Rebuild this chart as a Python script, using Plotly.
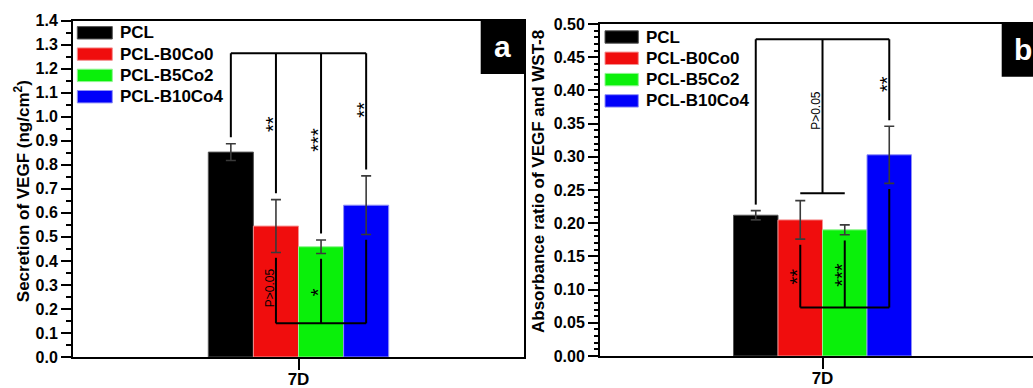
import plotly.graph_objects as go

# ---------------- data ----------------
groups = ["PCL", "PCL-B0Co0", "PCL-B5Co2", "PCL-B10Co4"]
day_labels = ["7D"]

vegf_secretion = [0.853, 0.545, 0.459, 0.632]          # ng/cm2
vegf_secretion_err = [0.035, 0.110, 0.028, 0.122]

absorbance_ratio = [0.212, 0.205, 0.190, 0.303]        # VEGF / WST-8
absorbance_ratio_err = [0.007, 0.029, 0.0075, 0.043]

# significance labels: (text, bar index or None for middle, y level)
sig_left = [("**", 1, 0.97), ("***", 2, 0.905), ("**", 3, 1.03),
            ("P>0.05", 1, 0.29), ("*", 2, 0.27)]
sig_right = [("P>0.05", None, 0.37), ("**", 3, 0.41),
             ("**", 1, 0.12), ("***", 2, 0.122)]

# ---------------- styles ----------------
colors = ["#000000", "#f00d0d", "#0af00a", "#0000fa"]
edges = ["#555555", "#f59090", "#90f590", "#9090f5"]
FONT = "Liberation Sans, Arial, sans-serif"
W, H = 1033, 388
BARGAP = 0.6

group_w = 1 - BARGAP
bw = group_w / len(groups)
centers = [-group_w / 2 + bw * (i + 0.5) for i in range(len(groups))]

fig = go.Figure()

for ax, vals, errs in [("", vegf_secretion, vegf_secretion_err),
                       ("2", absorbance_ratio, absorbance_ratio_err)]:
    for i, g in enumerate(groups):
        fig.add_trace(go.Bar(
            x=[0], y=[vals[i]], name=g, showlegend=False,
            marker=dict(color=colors[i], line=dict(color=edges[i], width=1)),
            error_y=dict(type="data", array=[errs[i]], color="#3a3a3a",
                         thickness=1.6, width=5),
            xaxis="x" + ax, yaxis="y" + ax, offsetgroup=str(i),
        ))

shapes = []
annotations = []
LW = dict(color="black", width=2)


def seg(ax, x0, y0, x1, y1):
    shapes.append(dict(type="line", xref="x" + ax, yref="y" + ax,
                       x0=x0, y0=y0, x1=x1, y1=y1, line=LW, layer="above"))


# ---- panel a brackets ----
top_a, gap_top_a = 1.265, 0.027
bot_a, gap_bot_a = 0.14, 0.022
seg("", centers[0], top_a, centers[3], top_a)
for i in range(4):
    seg("", centers[i], top_a, centers[i], vegf_secretion[i] + vegf_secretion_err[i] + gap_top_a)
seg("", centers[1], bot_a, centers[3], bot_a)
for i in range(1, 4):
    seg("", centers[i], bot_a, centers[i], vegf_secretion[i] - vegf_secretion_err[i] - gap_bot_a)

# ---- panel b brackets ----
top_b, gap_top_b = 0.477, 0.009
mid_b = 0.245
bot_b, gap_bot_b = 0.073, 0.0085
seg("2", centers[0], top_b, centers[3], top_b)
for i in (0, 3):
    seg("2", centers[i], top_b, centers[i], absorbance_ratio[i] + absorbance_ratio_err[i] + gap_top_b)
seg("2", 0, top_b, 0, mid_b)
seg("2", centers[1], mid_b, centers[2], mid_b)
seg("2", centers[1], bot_b, centers[3], bot_b)
for i in range(1, 4):
    seg("2", centers[i], bot_b, centers[i], absorbance_ratio[i] - absorbance_ratio_err[i] - gap_bot_b)

# ---- legends (drawn as swatches + labels, one per panel) ----
for sx0, sx1, tx, row0 in [(77.3, 112.3, 118.3, 32.8), (605, 638.3, 644.3, 37)]:
    for i, g in enumerate(groups):
        yc = row0 + 21.3 * i
        shapes.append(dict(type="rect", xref="paper", yref="paper",
                           x0=sx0 / W, x1=sx1 / W,
                           y0=1 - (yc + 6.2) / H, y1=1 - (yc - 6.2) / H,
                           fillcolor=colors[i], line=dict(color=edges[i], width=1),
                           layer="above"))
        annotations.append(dict(text=g, x=tx / W, y=1 - yc / H, xref="paper", yref="paper",
                                xanchor="left", yanchor="middle", showarrow=False,
                                font=dict(family=FONT, size=17, color="black", weight="bold")))

# ---- panel letter boxes ----
shapes.append(dict(type="rect", xref="paper", yref="paper",
                   x0=480.7 / W, x1=524 / W, y0=1 - 74 / H, y1=1 - 20.7 / H,
                   fillcolor="black", line=dict(width=0), layer="above"))
shapes.append(dict(type="rect", xref="paper", yref="paper",
                   x0=1001.7 / W, x1=1.02, y0=1 - 76.7 / H, y1=1 - 23.3 / H,
                   fillcolor="black", line=dict(width=0), layer="above"))

for ax, sig in (("", sig_left), ("2", sig_right)):
    for txt, idx, y in sig:
        x = 0 if idx is None else centers[idx]
        is_star = txt.startswith("*")
        annotations.append(dict(
            text=txt, x=x, y=y, xref="x" + ax, yref="y" + ax,
            showarrow=False, textangle=-90, xanchor="center", yanchor="middle",
            xshift=-6 if not is_star else -3,
            font=dict(family=FONT, size=20 if is_star else 12, color="black",
                      weight="normal"),
        ))

annotations += [
    dict(text="a", x=502 / W, y=1 - 46 / H, xref="paper", yref="paper", showarrow=False,
         xanchor="center", yanchor="middle",
         font=dict(family=FONT, size=30, color="white", weight="bold")),
    dict(text="b", x=1023 / W, y=1 - 49 / H, xref="paper", yref="paper", showarrow=False,
         xanchor="center", yanchor="middle",
         font=dict(family=FONT, size=30, color="white", weight="bold")),
    dict(text="Secretion of VEGF (ng/cm<sup>2</sup>)", x=21.7 / W, y=1 - 191.5 / H,
         xref="paper", yref="paper", showarrow=False, textangle=-90,
         xanchor="center", yanchor="middle",
         font=dict(family=FONT, size=17, color="black", weight="bold")),
    dict(text="Absorbance ratio of VEGF and WST-8", x=538 / W, y=1 - 182 / H,
         xref="paper", yref="paper", showarrow=False, textangle=-90,
         xanchor="center", yanchor="middle",
         font=dict(family=FONT, size=17, color="black", weight="bold")),
]

tickfont = dict(family=FONT, size=16, color="black", weight="bold")
common_x = dict(tickvals=[0], ticktext=day_labels, showline=True, linewidth=2,
                linecolor="black", mirror=True, ticks="outside", ticklen=11,
                tickwidth=2, tickcolor="black", showgrid=False, zeroline=False,
                automargin=False, ticklabelstandoff=-5,
                tickfont=dict(family=FONT, size=17, color="black", weight="bold"))
common_y = dict(showline=True, linewidth=2, linecolor="black", mirror=True,
                ticks="outside", ticklen=10, tickwidth=2, tickcolor="black",
                showgrid=False, zeroline=False, tickfont=tickfont, automargin=False)

fig.update_layout(
    width=W, height=H, margin=dict(l=0, r=0, t=0, b=0, autoexpand=False),
    paper_bgcolor="white", plot_bgcolor="white", showlegend=False,
    barmode="group", bargap=BARGAP, bargroupgap=0,
    font=dict(family=FONT, color="black"),
    xaxis=dict(domain=[73 / W, 524 / W], range=[-0.5, 0.5], anchor="y", **common_x),
    yaxis=dict(domain=[1 - 357 / H, 1 - 20.7 / H], range=[0, 1.4], dtick=0.1,
               tickformat=".1f", anchor="x",
               minor=dict(ticks="outside", ticklen=5, tickwidth=1.5, dtick=0.05,
                          tickcolor="black"), **common_y),
    xaxis2=dict(domain=[600 / W, 1.0], range=[-0.5, 0.473], anchor="y2", **common_x),
    yaxis2=dict(domain=[1 - 356 / H, 1 - 24 / H], range=[0, 0.5], dtick=0.05,
                tickformat=".2f", anchor="x2",
                minor=dict(ticks="outside", ticklen=4, tickwidth=1.5, dtick=0.01,
                           tickcolor="black"), **common_y),
    shapes=shapes, annotations=annotations,
)

fig.write_html("out.html",
               config={"displayModeBar": False},
               post_script="document.body.style.margin='0px';"
                           "document.body.style.overflow='hidden';")
